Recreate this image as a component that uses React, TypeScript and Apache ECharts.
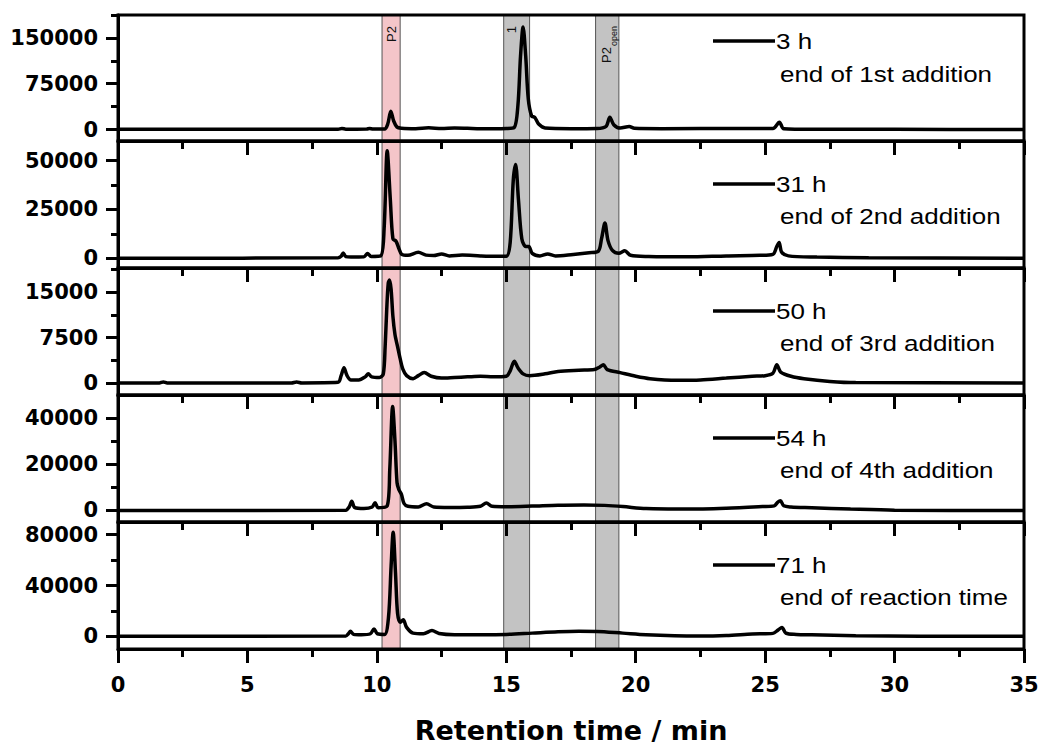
import React, { useEffect, useRef } from 'react';
import * as echarts from 'echarts';

// Retention time (min) / detector signal pairs for each sampling point
const trace3h: [number, number][] = [
  [0, 500], [5, 500], [8.5, 500], [8.65, 1800], [8.8, 600], [9.6, 700], [9.72, 1800], [9.85, 800],
  [10.3, 900], [10.42, 9000], [10.54, 30000], [10.65, 14000], [10.78, 4000], [10.95, 2200],
  [11.5, 1500], [12.0, 2800], [12.5, 1600], [13.0, 2400], [13.5, 2000], [14.0, 1500], [14.5, 1500],
  [15.0, 1800], [15.3, 3000], [15.45, 40000], [15.55, 120000], [15.65, 168000], [15.75, 120000],
  [15.85, 50000], [15.98, 22000], [16.1, 20000], [16.25, 9000], [16.5, 2500], [17.5, 1500],
  [18.5, 1800], [18.85, 5000], [19.0, 20000], [19.15, 8000], [19.4, 2500], [19.75, 5000],
  [19.95, 2000], [21.0, 1500], [24.0, 1800], [25.3, 1800], [25.55, 12000], [25.72, 1500],
  [27.0, 500], [30.0, 300], [35.0, 200],
];

const trace31h: [number, number][] = [
  [0, 0], [8.5, 200], [8.62, 1000], [8.7, 2700], [8.8, 800], [9.0, 600], [9.5, 700], [9.64, 2400],
  [9.78, 900], [10.15, 1200], [10.28, 15000], [10.4, 55000], [10.52, 30000], [10.62, 10000],
  [10.74, 8700], [10.85, 5000], [10.96, 2000], [11.2, 1500], [11.6, 3000], [11.9, 1600],
  [12.2, 1400], [12.5, 2200], [12.8, 1200], [13.3, 1600], [14.0, 1200], [14.6, 1000], [15.0, 1000],
  [15.15, 8000], [15.27, 40000], [15.36, 48000], [15.47, 30000], [15.6, 10000], [15.75, 6000],
  [15.87, 6000], [16.0, 2500], [16.3, 1200], [16.6, 2200], [16.9, 1200], [17.5, 1800],
  [18.2, 2800], [18.55, 3500], [18.68, 10000], [18.81, 18000], [18.93, 9000], [19.1, 4000],
  [19.35, 2500], [19.58, 3800], [19.8, 1500], [20.5, 900], [22.0, 700], [23.5, 1200],
  [24.8, 1500], [25.3, 2000], [25.45, 6000], [25.54, 8000], [25.64, 3000], [25.9, 1200],
  [27.0, 600], [29.0, 200], [35.0, 0],
];

const trace50h: [number, number][] = [
  [0, 0], [1.6, 0], [1.75, 150], [1.9, 0], [6.7, 0], [6.9, 150], [7.1, 0], [8.5, 100],
  [8.62, 1200], [8.73, 2500], [8.85, 1200], [9.0, 500], [9.3, 500], [9.55, 1000], [9.67, 1500],
  [9.8, 1000], [10.1, 900], [10.25, 1500], [10.32, 6000], [10.38, 12000], [10.44, 16500],
  [10.49, 17000], [10.55, 15500], [10.62, 11000], [10.7, 8000], [10.8, 6000], [10.9, 4000],
  [11.0, 2300], [11.15, 1200], [11.4, 700], [11.6, 1200], [11.83, 1700], [12.1, 1100],
  [12.5, 800], [13.0, 900], [13.5, 1000], [14.0, 1100], [14.5, 1000], [15.0, 1100],
  [15.15, 2000], [15.31, 3600], [15.45, 2500], [15.65, 1500], [15.9, 1200], [16.5, 1500],
  [17.0, 1900], [17.8, 2100], [18.4, 2200], [18.6, 2600], [18.75, 3000], [18.9, 2200],
  [19.4, 1700], [20.0, 1100], [20.55, 700], [21.6, 450], [22.5, 500], [23.5, 800],
  [24.5, 1100], [25.0, 1200], [25.3, 1600], [25.45, 3000], [25.6, 1800], [26.0, 1100],
  [26.5, 700], [27.5, 250], [28.5, 50], [35.0, 0],
];

const trace54h: [number, number][] = [
  [0, 0], [8.8, 100], [8.93, 1500], [9.03, 4000], [9.15, 1200], [9.5, 800], [9.82, 1500],
  [9.93, 3300], [10.05, 1200], [10.4, 2000], [10.5, 18000], [10.61, 45000], [10.7, 30000],
  [10.78, 12000], [10.85, 9000], [10.95, 7000], [11.05, 3000], [11.2, 1800], [11.6, 1500],
  [11.92, 2900], [12.2, 1500], [12.8, 1300], [13.5, 1400], [14.0, 1800], [14.23, 3200],
  [14.45, 1800], [15.0, 1600], [16.0, 1900], [17.0, 2300], [18.0, 2400], [18.8, 2200],
  [19.5, 1700], [20.4, 800], [22.0, 600], [23.5, 1000], [24.9, 1700], [25.35, 2000],
  [25.48, 3500], [25.59, 4200], [25.72, 2000], [26.0, 1500], [26.8, 1200], [28.3, 600],
  [30.0, 100], [35.0, 0],
];

const trace71h: [number, number][] = [
  [0, 0], [8.8, 300], [8.9, 2000], [8.98, 4000], [9.1, 1500], [9.4, 1200], [9.75, 2000],
  [9.89, 5800], [10.02, 2000], [10.3, 1500], [10.45, 15000], [10.55, 55000], [10.63, 82000],
  [10.72, 50000], [10.8, 18000], [10.9, 11000], [11.02, 13000], [11.15, 7000], [11.4, 2500],
  [11.8, 2000], [12.13, 4500], [12.4, 2200], [13.0, 1300], [14.0, 1300], [15.0, 1500],
  [16.0, 2500], [17.0, 3500], [17.8, 3900], [18.5, 3800], [19.5, 2500], [20.4, 1300],
  [21.5, 500], [22.5, 300], [23.5, 700], [24.5, 1800], [25.3, 2300], [25.5, 5000],
  [25.65, 7000], [25.8, 2500], [26.2, 1500], [26.8, 1200], [28.5, 500], [31.0, 100], [35.0, 0],
];

const traces = [trace3h, trace31h, trace50h, trace54h, trace71h];
const sampleNames = ['3 h', '31 h', '50 h', '54 h', '71 h'];
const sampleNotes = [
  'end of 1st addition',
  'end of 2nd addition',
  'end of 3rd addition',
  'end of 4th addition',
  'end of reaction time',
];

// Signal axis ranges and tick values per panel
const yMin = [-18750, -5000, -2000, -5000, -10000];
const yMax = [187500, 60000, 19000, 50000, 90000];
const yMajorTicks = [
  [0, 75000, 150000],
  [0, 25000, 50000],
  [0, 7500, 15000],
  [0, 20000, 40000],
  [0, 40000, 80000],
];
const yMinorTicks = [
  [37500, 112500, 187500],
  [12500, 37500],
  [3750, 11250, 18750],
  [10000, 30000],
  [20000, 60000],
];

// Retention windows of the marked species
const bandRanges: [number, number][] = [
  [10.2, 10.9],
  [14.9, 15.9],
  [18.45, 19.35],
];

// Layout (pixels)
const W = 1044;
const H = 747;
const LEFT = 118;
const RIGHT_EDGE = 1024;
const PANEL_TOPS = [15, 141, 268, 395, 522];
const PANEL_BOTTOM = 649;
const BAND_FILLS = ['#f4c5c9', '#c3c3c3', '#c3c3c3'];
const BOLD_FONT = 'DejaVu Sans';
const TEXT_FONT = 'Liberation Sans';

export default function App() {
  const ref = useRef<HTMLDivElement>(null);

  useEffect(() => {
    const el = ref.current;
    if (!el) return;
    const chart = echarts.init(el, null, { renderer: 'svg' });

    const grid = PANEL_TOPS.map((top, i) => ({
      left: LEFT,
      right: W - RIGHT_EDGE,
      top,
      height: (i < PANEL_TOPS.length - 1 ? PANEL_TOPS[i + 1] : PANEL_BOTTOM) - top,
      show: true,
      backgroundColor: 'transparent',
      borderColor: '#000',
      borderWidth: 3,
      z: 10,
    }));

    const xAxis = traces.map((_, i) => ({
      type: 'value',
      gridIndex: i,
      min: 0,
      max: 35,
      interval: 5,
      z: 10,
      axisLine: { show: true, onZero: false, lineStyle: { color: '#000', width: 3 } },
      axisTick: { show: true, length: 14, lineStyle: { color: '#000', width: 3 } },
      minorTick: { show: true, splitNumber: 2, length: 8, lineStyle: { color: '#000', width: 3 } },
      splitLine: { show: false },
      minorSplitLine: { show: false },
      axisLabel: {
        show: i === traces.length - 1,
        margin: 25,
        color: '#000',
        fontFamily: BOLD_FONT,
        fontWeight: 'bold',
        fontSize: 21,
      },
      name: i === traces.length - 1 ? 'Retention time / min' : '',
      nameLocation: 'middle',
      nameGap: 68,
      nameTextStyle: { color: '#000', fontFamily: BOLD_FONT, fontWeight: 'bold', fontSize: 27 },
    }));

    const yAxis: any[] = [];
    traces.forEach((_, i) => {
      yAxis.push({
        type: 'value',
        gridIndex: i,
        position: 'left',
        min: yMin[i],
        max: yMax[i],
        z: 10,
        axisLine: { show: true, onZero: false, lineStyle: { color: '#000', width: 3 } },
        axisTick: {
          show: true,
          customValues: yMajorTicks[i],
          length: 12,
          lineStyle: { color: '#000', width: 3 },
        },
        axisLabel: {
          show: true,
          customValues: yMajorTicks[i],
          formatter: (v: number) => String(Math.round(v)),
          margin: 20,
          color: '#000',
          fontFamily: BOLD_FONT,
          fontWeight: 'bold',
          fontSize: 21,
        },
        splitLine: { show: false },
      });
      yAxis.push({
        type: 'value',
        gridIndex: i,
        position: 'left',
        min: yMin[i],
        max: yMax[i],
        z: 10,
        axisLine: { show: false, onZero: false },
        axisTick: {
          show: true,
          customValues: yMinorTicks[i],
          length: 7,
          lineStyle: { color: '#000', width: 3 },
        },
        axisLabel: { show: false },
        splitLine: { show: false },
      });
    });

    const series = traces.map((data, i) => ({
      type: 'line',
      name: sampleNames[i],
      xAxisIndex: i,
      yAxisIndex: i * 2,
      data,
      symbol: 'none',
      smooth: 0.3,
      z: 3,
      lineStyle: { color: '#000', width: 3.5 },
      markArea: {
        silent: true,
        z: 1,
        data: bandRanges.map(([a, b], k) => [
          {
            xAxis: a,
            itemStyle: { color: BAND_FILLS[k], borderColor: '#555', borderWidth: 1 },
          },
          { xAxis: b },
        ]),
      },
    }));

    // Sample legends: line key, time, and note per panel
    const legendGraphics: any[] = [];
    PANEL_TOPS.forEach((top, i) => {
      const y1 = top + (i === 0 ? 26 : 43);
      const y2 = top + (i === 0 ? 59 : 75);
      legendGraphics.push({
        type: 'line',
        shape: { x1: 713, y1, x2: 775, y2: y1 },
        style: { stroke: '#000', lineWidth: 3.5 },
        z: 20,
      });
      legendGraphics.push({
        type: 'text',
        x: 776,
        y: y1,
        scaleX: 1.18,
        style: {
          text: sampleNames[i],
          fontFamily: TEXT_FONT,
          fontSize: 22,
          fill: '#000',
          align: 'left',
          verticalAlign: 'middle',
          textAlign: 'left',
          textVerticalAlign: 'middle',
        },
        z: 20,
      });
      legendGraphics.push({
        type: 'text',
        x: 780,
        y: y2,
        scaleX: 1.18,
        style: {
          text: sampleNotes[i],
          fontFamily: TEXT_FONT,
          fontSize: 22,
          fill: '#000',
          align: 'left',
          verticalAlign: 'middle',
          textAlign: 'left',
          textVerticalAlign: 'middle',
        },
        z: 20,
      });
    });

    chart.setOption({
      animation: false,
      backgroundColor: '#fff',
      textStyle: { fontFamily: TEXT_FONT },
      grid,
      xAxis,
      yAxis,
      series,
      graphic: legendGraphics,
    });

    // Vertical band labels, placed over each retention window
    const px = (x: number) => chart.convertToPixel({ xAxisIndex: 0 }, x) as number;
    const vText = (text: string, x: number, y: number, size: number) => ({
      type: 'text',
      x,
      y,
      rotation: Math.PI / 2,
      style: {
        text,
        fontFamily: TEXT_FONT,
        fontSize: size,
        fill: '#111',
        align: 'right',
        verticalAlign: 'middle',
        textAlign: 'right',
        textVerticalAlign: 'middle',
      },
      z: 20,
    });
    const bandLabels = [
      vText('P2', px((bandRanges[0][0] + bandRanges[0][1]) / 2), 26, 13),
      vText('1', px(bandRanges[1][0] + 0.3), 26, 13),
      vText('P2', px(bandRanges[2][0] + 0.42), 47, 13),
      vText('open', px(bandRanges[2][0] + 0.7), 26, 9),
    ];
    chart.setOption({ graphic: [...legendGraphics, ...bandLabels] });

    return () => {
      chart.dispose();
    };
  }, []);

  return (
    <div
      ref={ref}
      style={{ position: 'absolute', left: 0, top: 0, width: W, height: H, background: '#fff' }}
    />
  );
}
